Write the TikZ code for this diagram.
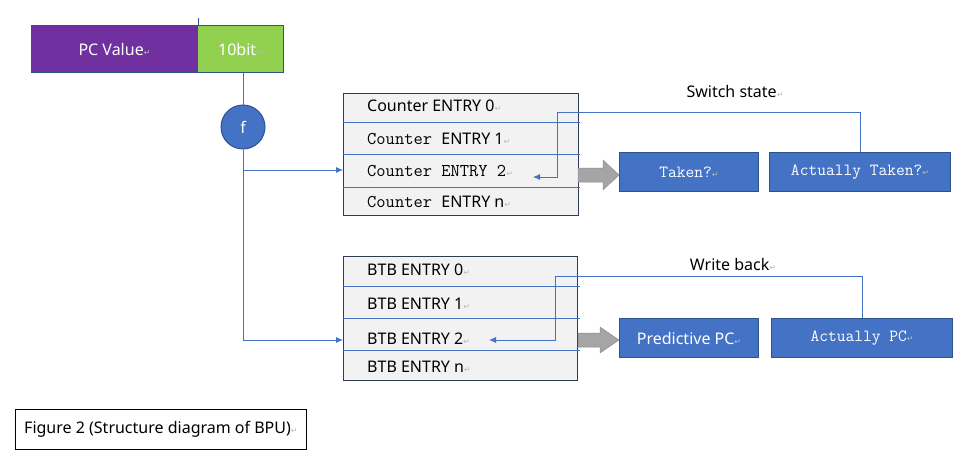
\documentclass[tikz,border=0pt]{standalone}
\usepackage{fontspec}
\setmainfont{Noto Sans}
\newfontfamily\symf{DejaVu Sans}
\usetikzlibrary{arrows.meta}
\definecolor{accblue}{HTML}{4472C4}
\definecolor{accdark}{HTML}{2F528F}
\definecolor{pcpurple}{HTML}{7030A0}
\definecolor{bitgreen}{HTML}{92D050}
\definecolor{rowgray}{HTML}{F2F2F2}
\definecolor{tabborder}{HTML}{2F3B55}
\definecolor{arrgray}{HTML}{A5A5A5}
\definecolor{arrline}{HTML}{8C8C8C}
\newcommand{\pmark}{{\symf\color{gray!55}\fontsize{8}{8}\selectfont ↵}}
\newcommand{\monof}{\ttfamily\fontsize{18}{20}\selectfont}
\begin{document}
\begin{tikzpicture}[x=1pt,y=-1pt,
  txt/.style={inner sep=0pt, font=\fontsize{16}{18}\selectfont},
  lbl/.style={txt, anchor=west},
  conn/.style={accblue, line width=0.8pt},
  arr/.style={conn, -{Latex[length=7pt,width=6pt]}},
  bluebox/.style={draw=accdark, line width=1pt, fill=accblue, text=white, inner sep=0pt, anchor=north west},
  tabbox/.style={draw=tabborder, line width=1.2pt, fill=rowgray, inner sep=0pt, anchor=north west},
  divider/.style={accblue, line width=0.6pt},
  blockarrow/.style={fill=arrgray, draw=arrline, line width=0.5pt}
]
\useasboundingbox (0,0) rectangle (971,472);

% PC value register
\node[txt, draw=accdark, line width=1pt, fill=pcpurple, text=white, minimum width=166pt, minimum height=47pt, anchor=north west] (pc) at (31,25) {PC Value\pmark};
\node[txt, draw=accdark, line width=1pt, fill=bitgreen, text=white, minimum width=86pt, minimum height=47pt, anchor=north west] (bits) at (197,25) {10bit\pmark};
\draw[accdark, line width=0.8pt] (pc.north east) -- ++(0,-7);

% hash function
\node[circle, draw=accdark, line width=1pt, fill=accblue, text=white, minimum size=44pt, inner sep=0pt, font=\fontsize{16}{18}\selectfont\bfseries] (f) at (243,127) {f};
\draw[conn] (f.north |- bits.south) -- (f.north);

% Counter table
\node[tabbox, minimum width=235pt, minimum height=122pt] (ctab) at (343,93) {};
\draw[divider] (343,122) -- (580,122);
\draw[divider] (343,154) -- (580,154);
\draw[divider] (343,187) -- (580,187);
\node[lbl] (c0) at (367,106) {Counter ENTRY 0\pmark};
\node[lbl] (c1) at (367,139) {{\monof Counter }ENTRY 1\pmark};
\node[lbl] (c2) at (367,171) {{\monof Counter ENTRY 2}\pmark};
\node[lbl] (cn) at (367,202) {{\monof Counter }ENTRY n\pmark};

% BTB table
\node[tabbox, minimum width=234pt, minimum height=124pt] (btab) at (343,256) {};
\draw[divider] (343,286) -- (580,286);
\draw[divider] (343,318) -- (580,318);
\draw[divider] (343,350) -- (580,350);
\node[lbl] (b0) at (367,270) {BTB ENTRY 0\pmark};
\node[lbl] (b1) at (367,304) {BTB ENTRY 1\pmark};
\node[lbl] (b2) at (367,339) {BTB ENTRY 2\pmark};
\node[lbl] (bn) at (367,367) {BTB ENTRY n\pmark};

% index connectors
\coordinate (cin) at (ctab.west |- 0,170);
\coordinate (bin) at (btab.west |- 0,340);
\draw[arr] (f.south) |- (cin);
\draw[arr] (f.south) |- (bin);

% result boxes
\node[bluebox, minimum width=139pt, minimum height=39pt, font=\fontsize{17}{19}\selectfont\ttfamily] (taken) at (619,152) {Taken?\pmark};
\node[bluebox, minimum width=181pt, minimum height=39pt, font=\fontsize{17}{19}\selectfont\ttfamily] (ataken) at (769,152) {Actually Taken?\pmark};
\node[bluebox, minimum width=139pt, minimum height=39pt, font=\fontsize{16}{18}\selectfont] (pred) at (619,318) {Predictive PC\pmark};
\node[bluebox, minimum width=181pt, minimum height=39pt, font=\fontsize{17}{19}\selectfont\ttfamily] (actpc) at (771,318) {Actually PC\pmark};

% block arrows
\draw[blockarrow] (578,168) -- (603,168) -- (603,160) -- (taken.west |- 0,175) -- (603,190) -- (603,182) -- (578,182) -- cycle;
\draw[blockarrow] (578,333) -- (600,333) -- (600,327) -- (pred.west |- 0,340) -- (600,353) -- (600,347) -- (578,347) -- cycle;

% feedback connectors
\coordinate (cret) at (533,177);
\coordinate (bret) at (489,340);
\draw[arr] (ataken.north) |- (557,112) |- (cret);
\draw[arr] (actpc.north) |- (555,276) |- (bret);
\node[txt] (sw) at (735,91) {Switch state\pmark};
\node[txt] (wb) at (733,264) {Write back\pmark};

% caption
\node[txt, draw=black, line width=0.8pt, minimum width=291pt, minimum height=40pt, anchor=north west] (cap) at (15,409) {Figure 2 (Structure diagram of BPU)\pmark};
\end{tikzpicture}
\end{document}
